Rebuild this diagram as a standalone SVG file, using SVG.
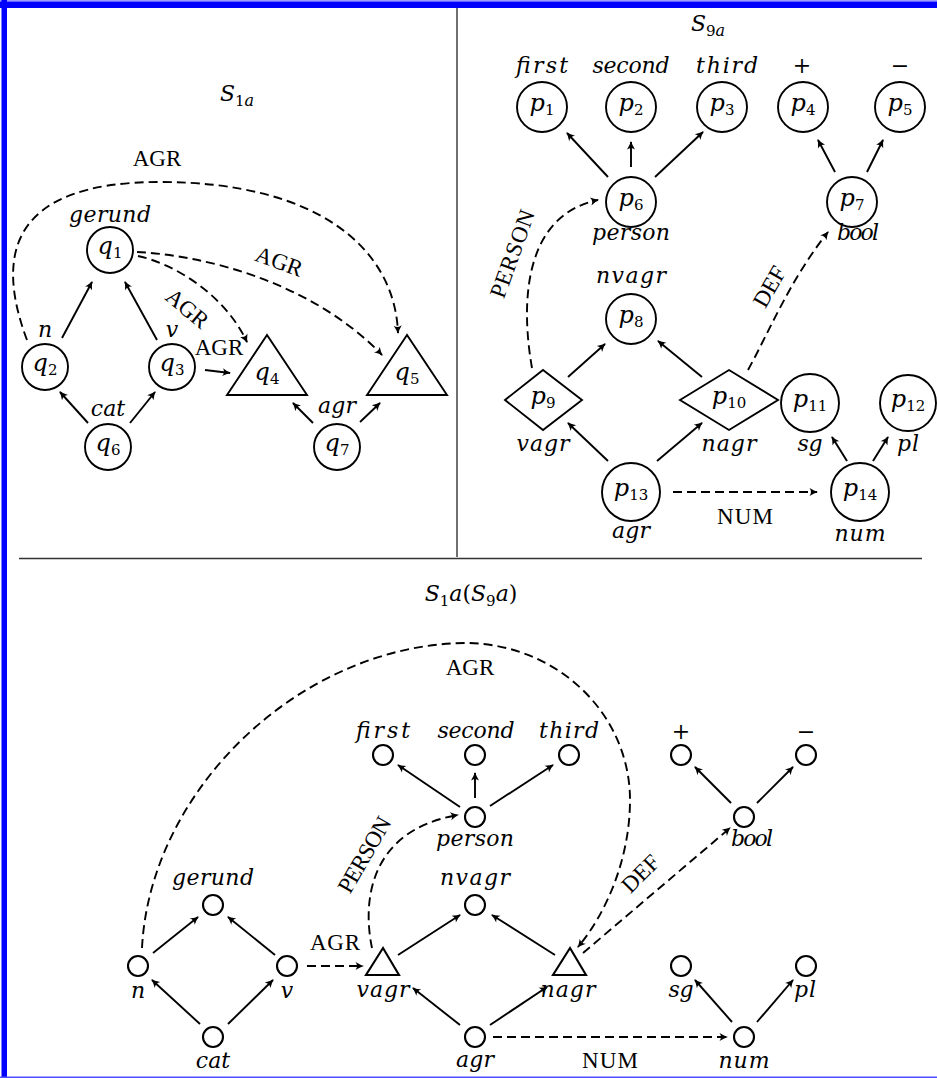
<svg xmlns="http://www.w3.org/2000/svg" width="937" height="1078" viewBox="0 0 937 1078">
<defs>
<style>
.ln{stroke:#000;stroke-width:1.9;fill:none}
.a{marker-end:url(#ah)}
.d{stroke-dasharray:9 5}
.nd{fill:#fff;stroke:#000;stroke-width:1.9}
.sm{fill:#fff;stroke:#000;stroke-width:2.1}
.t{font-family:'DejaVu Serif','Liberation Serif',serif;font-size:22px;font-style:italic;text-anchor:middle;fill:#000}
.nm{font-size:24px}
.u{font-family:'Liberation Serif','DejaVu Serif',serif;font-size:23px;font-style:normal;text-anchor:middle;fill:#000}
.sb{font-size:15px;font-style:normal}
.si{font-size:16px;font-style:italic}
</style>
<marker id="ah" viewBox="-10 -5 12 10" refX="-1" refY="0" markerWidth="12" markerHeight="10" orient="auto" markerUnits="userSpaceOnUse">
<path d="M-8.5,-4 Q-3.5,-1 0,0 Q-3.5,1 -8.5,4 Q-5.5,0 -8.5,-4Z" fill="#000"/>
</marker>
</defs>
<rect width="937" height="1078" fill="#fff"/>
<g id="frame">
<rect x="0" y="0" width="937" height="1.5" fill="#9a9aff"/>
<rect x="0" y="1.5" width="937" height="6.5" fill="#0000ff"/>
<rect x="1.5" y="0" width="5.5" height="1078" fill="#0000ff"/>
<rect x="0" y="1076.5" width="937" height="1.5" fill="#4f4fff"/>
<line x1="457" y1="8" x2="457" y2="557" stroke="#222" stroke-width="1.3"/>
<line x1="19" y1="558.5" x2="922" y2="558.5" stroke="#333" stroke-width="1.6"/>
</g>
<g id="titles">
<text class="t" x="237" y="101" font-size="28">S<tspan class="sb" font-size="16" dy="5">1</tspan><tspan class="si" font-size="16">a</tspan></text>
<text class="t" x="708" y="31" font-size="28">S<tspan class="sb" font-size="16" dy="5">9</tspan><tspan class="si" font-size="16">a</tspan></text>
<text class="t" x="471" y="601" font-size="26">S<tspan class="sb" font-size="17" dy="5">1</tspan><tspan dy="-5">a</tspan><tspan font-style="normal">(</tspan>S<tspan class="sb" font-size="17" dy="5">9</tspan><tspan dy="-5">a</tspan><tspan font-style="normal">)</tspan></text>
</g>
<g id="connectors">
<path class="ln d a" d="M27,340 C-5,255 10,182 160,182 C320,182 395,250 398,333"/>
<path class="ln d a" d="M138,256 C175,264 225,295 247,342"/>
<path class="ln d a" d="M137,252 C200,255 310,280 382,355"/>
<line class="ln a" x1="62" y1="338" x2="92" y2="282"/>
<line class="ln a" x1="157" y1="340" x2="125" y2="282"/>
<line class="ln a" x1="88" y1="423" x2="60" y2="392"/>
<line class="ln a" x1="130" y1="423" x2="155" y2="392"/>
<line class="ln a" x1="205" y1="370" x2="230" y2="373"/>
<line class="ln a" x1="313" y1="423" x2="293" y2="403"/>
<line class="ln a" x1="360" y1="422" x2="380" y2="403"/>
<line class="ln a" x1="608" y1="177" x2="567" y2="133"/>
<line class="ln a" x1="631" y1="167" x2="631" y2="142"/>
<line class="ln a" x1="655" y1="177" x2="703" y2="132"/>
<line class="ln a" x1="835" y1="172" x2="818" y2="140"/>
<line class="ln a" x1="867" y1="172" x2="883" y2="140"/>
<line class="ln a" x1="568" y1="377" x2="605" y2="344"/>
<line class="ln a" x1="702" y1="377" x2="658" y2="341"/>
<line class="ln a" x1="608" y1="461" x2="568" y2="423"/>
<line class="ln a" x1="657" y1="461" x2="702" y2="423"/>
<line class="ln a" x1="847" y1="461" x2="832" y2="437"/>
<line class="ln a" x1="873" y1="461" x2="888" y2="437"/>
<line class="ln d a" x1="673" y1="492" x2="817" y2="492"/>
<path class="ln d a" d="M532,368 C520,300 525,215 598,200"/>
<path class="ln d a" d="M748,370 C770,330 790,280 828,232"/>
<path class="ln d a" d="M142,948 C150,790 300,645 465,643 A165,157 0 0 1 630,800 C630,860 605,915 578,947"/>
<path class="ln d a" d="M372,948 C362,900 370,830 458,815"/>
<line class="ln d a" x1="583" y1="953" x2="730" y2="828"/>
<line class="ln d a" x1="307" y1="966" x2="363" y2="966"/>
<line class="ln d a" x1="493" y1="1037" x2="727" y2="1037"/>
<line class="ln a" x1="460" y1="807" x2="398" y2="765"/>
<line class="ln a" x1="475" y1="798" x2="475" y2="773"/>
<line class="ln a" x1="490" y1="806" x2="553" y2="765"/>
<line class="ln a" x1="731" y1="803" x2="695" y2="767"/>
<line class="ln a" x1="757" y1="803" x2="793" y2="767"/>
<line class="ln a" x1="153" y1="953" x2="198" y2="917"/>
<line class="ln a" x1="275" y1="955" x2="228" y2="917"/>
<line class="ln a" x1="200" y1="1024" x2="152" y2="980"/>
<line class="ln a" x1="228" y1="1024" x2="273" y2="980"/>
<line class="ln a" x1="398" y1="955" x2="460" y2="915"/>
<line class="ln a" x1="555" y1="955" x2="492" y2="915"/>
<line class="ln a" x1="460" y1="1025" x2="413" y2="988"/>
<line class="ln a" x1="490" y1="1025" x2="547" y2="987"/>
<line class="ln a" x1="732" y1="1022" x2="695" y2="980"/>
<line class="ln a" x1="757" y1="1022" x2="793" y2="980"/>
<text class="u" x="157" y="166">AGR</text>
<text class="u" transform="translate(187,309) rotate(40)" y="7">AGR</text>
<text class="u" transform="translate(279,262) rotate(20)" y="7">AGR</text>
<text class="u" x="219" y="355">AGR</text>
<text class="u" transform="translate(513,254) rotate(-70)" y="7" textLength="92">PERSON</text>
<text class="u" transform="translate(770,287) rotate(-60)" y="7">DEF</text>
<text class="u" x="745" y="524" textLength="56">NUM</text>
<text class="u" x="470" y="675">AGR</text>
<text class="u" x="335" y="950" textLength="50">AGR</text>
<text class="u" transform="translate(365,855) rotate(-60)" y="7" textLength="84">PERSON</text>
<text class="u" transform="translate(641,874) rotate(-45)" y="7">DEF</text>
<text class="u" x="610" y="1068" textLength="56">NUM</text>
</g>
<g id="q1"><circle class="nd" cx="110" cy="250" r="23"/><text class="t nm" x="110" y="254">q<tspan class="sb" dy="4">1</tspan></text><text class="t" x="110" y="222" textLength="82">gerund</text></g>
<g id="q2"><circle class="nd" cx="45" cy="367" r="23"/><text class="t nm" x="45" y="371">q<tspan class="sb" dy="4">2</tspan></text><text class="t" x="45" y="337">n</text></g>
<g id="q3"><circle class="nd" cx="172" cy="367" r="23"/><text class="t nm" x="172" y="371">q<tspan class="sb" dy="4">3</tspan></text><text class="t" x="172" y="337">v</text></g>
<g id="q4"><polygon class="nd" points="267,335 227,395 307,395"/><text class="t nm" x="267" y="380">q<tspan class="sb" dy="4">4</tspan></text></g>
<g id="q5"><polygon class="nd" points="407,335 367,395 447,395"/><text class="t nm" x="407" y="380">q<tspan class="sb" dy="4">5</tspan></text></g>
<g id="q6"><circle class="nd" cx="108" cy="447" r="23"/><text class="t nm" x="108" y="451">q<tspan class="sb" dy="4">6</tspan></text><text class="t" x="108" y="416">cat</text></g>
<g id="q7"><circle class="nd" cx="337" cy="447" r="23"/><text class="t nm" x="337" y="451">q<tspan class="sb" dy="4">7</tspan></text><text class="t" x="337" y="413" textLength="38">agr</text></g>
<g id="p1"><circle class="nd" cx="542" cy="107" r="25"/><text class="t nm" x="542" y="111">p<tspan class="sb" dy="4">1</tspan></text><text class="t" x="542" y="73" textLength="52">first</text></g>
<g id="p2"><circle class="nd" cx="631" cy="107" r="25"/><text class="t nm" x="631" y="111">p<tspan class="sb" dy="4">2</tspan></text><text class="t" x="631" y="73" textLength="77">second</text></g>
<g id="p3"><circle class="nd" cx="722" cy="107" r="25"/><text class="t nm" x="722" y="111">p<tspan class="sb" dy="4">3</tspan></text><text class="t" x="727" y="73" textLength="62">third</text></g>
<g id="p4"><circle class="nd" cx="803" cy="107" r="25"/><text class="t nm" x="803" y="111">p<tspan class="sb" dy="4">4</tspan></text><text class="t" x="802" y="73" font-style="normal">+</text></g>
<g id="p5"><circle class="nd" cx="900" cy="107" r="25"/><text class="t nm" x="900" y="111">p<tspan class="sb" dy="4">5</tspan></text><text class="t" x="900" y="73" font-style="normal">−</text></g>
<g id="p6"><circle class="nd" cx="631" cy="202" r="25"/><text class="t nm" x="631" y="206">p<tspan class="sb" dy="4">6</tspan></text><text class="t" x="631" y="240" textLength="78">person</text></g>
<g id="p7"><circle class="nd" cx="852" cy="202" r="25"/><text class="t nm" x="852" y="206">p<tspan class="sb" dy="4">7</tspan></text><text class="t" x="858" y="240" textLength="42">bool</text></g>
<g id="p8"><circle class="nd" cx="631" cy="319" r="25"/><text class="t nm" x="631" y="323">p<tspan class="sb" dy="4">8</tspan></text><text class="t" x="631" y="283" textLength="70">nvagr</text></g>
<g id="p9"><polygon class="nd" points="505,400 543,370 582,400 543,430"/><text class="t nm" x="543" y="404">p<tspan class="sb" dy="4">9</tspan></text><text class="t" x="543" y="451" textLength="53">vagr</text></g>
<g id="p10"><polygon class="nd" points="680,400 729,370 778,400 729,430"/><text class="t nm" x="729" y="404">p<tspan class="sb" dy="4">10</tspan></text><text class="t" x="729" y="451" textLength="55">nagr</text></g>
<g id="p11"><circle class="nd" cx="810" cy="403" r="29"/><text class="t nm" x="810" y="407">p<tspan class="sb" dy="4">11</tspan></text><text class="t" x="810" y="451" textLength="25">sg</text></g>
<g id="p12"><circle class="nd" cx="908" cy="403" r="28"/><text class="t nm" x="908" y="407">p<tspan class="sb" dy="4">12</tspan></text><text class="t" x="908" y="451" textLength="22">pl</text></g>
<g id="p13"><circle class="nd" cx="631" cy="492" r="29"/><text class="t nm" x="631" y="496">p<tspan class="sb" dy="4">13</tspan></text><text class="t" x="631" y="538" textLength="38">agr</text></g>
<g id="p14"><circle class="nd" cx="860" cy="492" r="29"/><text class="t nm" x="860" y="496">p<tspan class="sb" dy="4">14</tspan></text><text class="t" x="860" y="541" textLength="51">num</text></g>
<g id="b-first"><circle class="sm" cx="383" cy="755" r="10"/><text class="t" x="383" y="738" textLength="54">first</text></g>
<g id="b-second"><circle class="sm" cx="475" cy="755" r="10"/><text class="t" x="476" y="738" textLength="77">second</text></g>
<g id="b-third"><circle class="sm" cx="569" cy="755" r="10"/><text class="t" x="569" y="738" textLength="60">third</text></g>
<g id="b-plus"><circle class="sm" cx="681" cy="755" r="10"/><text class="t" x="681" y="739" font-style="normal">+</text></g>
<g id="b-minus"><circle class="sm" cx="806" cy="755" r="10"/><text class="t" x="806" y="739" font-style="normal">−</text></g>
<g id="b-person"><circle class="sm" cx="475" cy="817" r="10"/><text class="t" x="475" y="846" textLength="78">person</text></g>
<g id="b-bool"><circle class="sm" cx="744" cy="817" r="10"/><text class="t" x="752" y="846" textLength="42">bool</text></g>
<g id="b-gerund"><circle class="sm" cx="213" cy="905" r="10"/><text class="t" x="213" y="885" textLength="82">gerund</text></g>
<g id="b-nvagr"><circle class="sm" cx="475" cy="905" r="10"/><text class="t" x="475" y="885" textLength="70">nvagr</text></g>
<g id="b-n"><circle class="sm" cx="138" cy="966" r="10"/><text class="t" x="138" y="998">n</text></g>
<g id="b-v"><circle class="sm" cx="287" cy="966" r="10"/><text class="t" x="287" y="998">v</text></g>
<g id="b-vagr"><polygon class="sm" points="383,948 366,975 399,975"/><text class="t" x="383" y="997" textLength="53">vagr</text></g>
<g id="b-nagr"><polygon class="sm" points="570,948 553,975 586,975"/><text class="t" x="568" y="997" textLength="55">nagr</text></g>
<g id="b-sg"><circle class="sm" cx="681" cy="966" r="10"/><text class="t" x="681" y="997" textLength="25">sg</text></g>
<g id="b-pl"><circle class="sm" cx="806" cy="966" r="10"/><text class="t" x="805" y="997" textLength="22">pl</text></g>
<g id="b-cat"><circle class="sm" cx="213" cy="1037" r="10"/><text class="t" x="213" y="1068">cat</text></g>
<g id="b-agr"><circle class="sm" cx="475" cy="1037" r="10"/><text class="t" x="475" y="1067" textLength="38">agr</text></g>
<g id="b-num"><circle class="sm" cx="744" cy="1037" r="10"/><text class="t" x="744" y="1068" textLength="51">num</text></g>
</svg>
